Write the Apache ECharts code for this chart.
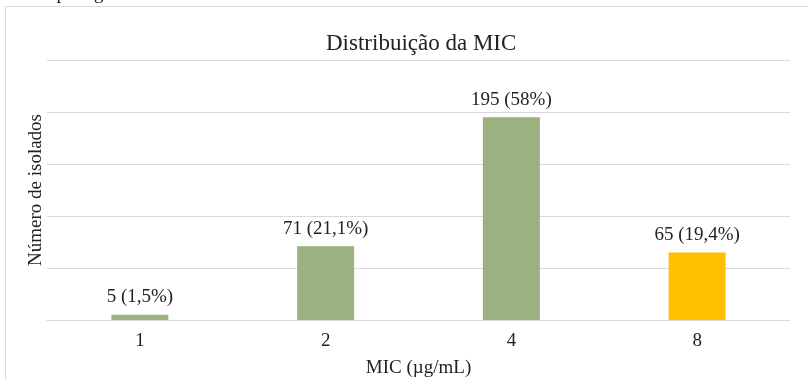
<!DOCTYPE html>
<html>
<head>
<meta charset="utf-8">
<script src="https://cdn.jsdelivr.net/npm/echarts@6/dist/echarts.min.js"></script>
<style>
  html, body { margin: 0; padding: 0; background: #fff; }
  #container { width: 808px; height: 379px; }
</style>
</head>
<body>
<div id="container"></div>
<script>
// MIC values (x axis) and number of isolates
const categories = ['1', '2', '4', '8'];
const counts = [5, 71, 195, 65];
const percents = [1.5, 21.1, 58, 19.4];
const barColors = ['#9bb17f', '#9bb17f', '#9bb17f', '#ffc000'];

const serif = '"Liberation Serif", "DejaVu Serif", serif';

const fmtPct = function (p) {
    return String(p).replace('.', ',') + '%';
};

const barData = counts.map(function (v, i) {
    return { value: v, itemStyle: { color: barColors[i] } };
});

var dom = document.getElementById('container');
var myChart = echarts.init(dom);
var option = {
    animation: false,
    title: {
        text: 'Distribuição da MIC',
        left: 321,
        top: 27,
        textStyle: { fontFamily: serif, fontSize: 23, fontWeight: 'normal', color: '#222' }
    },
    graphic: [
        {
            type: 'rect',
            shape: { x: 5.5, y: 6.5, width: 900, height: 500 },
            style: { fill: 'none', stroke: '#d9d9d9', lineWidth: 1 },
            silent: true
        },
        {
            // caption of the page above the chart, cut off by the crop
            type: 'text',
            left: 38,
            top: -15,
            style: { text: 'O para gentamicina nos isolados do estudo.', font: '19px ' + serif, fill: '#222' },
            silent: true
        }
    ],
    grid: { left: 47, right: 18, top: 60, bottom: 59, outerBoundsMode: 'none' },
    xAxis: {
        type: 'category',
        data: categories,
        axisLine: { lineStyle: { color: '#d9d9d9', width: 1 } },
        axisTick: { show: false },
        axisLabel: { fontFamily: serif, fontSize: 19, color: '#222', margin: 12 },
        name: 'MIC (µg/mL)',
        nameLocation: 'middle',
        nameGap: 39,
        nameTextStyle: { fontFamily: serif, fontSize: 19, color: '#222' }
    },
    yAxis: {
        type: 'value',
        min: 0,
        max: 250,
        interval: 50,
        axisLine: { show: false },
        axisTick: { show: false },
        axisLabel: { show: false },
        splitLine: { lineStyle: { color: '#d9d9d9', width: 1 } },
        name: 'Número de isolados',
        nameLocation: 'middle',
        nameGap: 1,
        nameTextStyle: { fontFamily: serif, fontSize: 19, color: '#222' }
    },
    series: [{
        type: 'bar',
        data: barData,
        barWidth: 57,
        label: {
            show: true,
            position: 'top',
            distance: 8,
            fontFamily: serif,
            fontSize: 19,
            color: '#222',
            formatter: function (p) {
                return counts[p.dataIndex] + ' (' + fmtPct(percents[p.dataIndex]) + ')';
            }
        }
    }]
};
myChart.setOption(option);
</script>
</body>
</html>
